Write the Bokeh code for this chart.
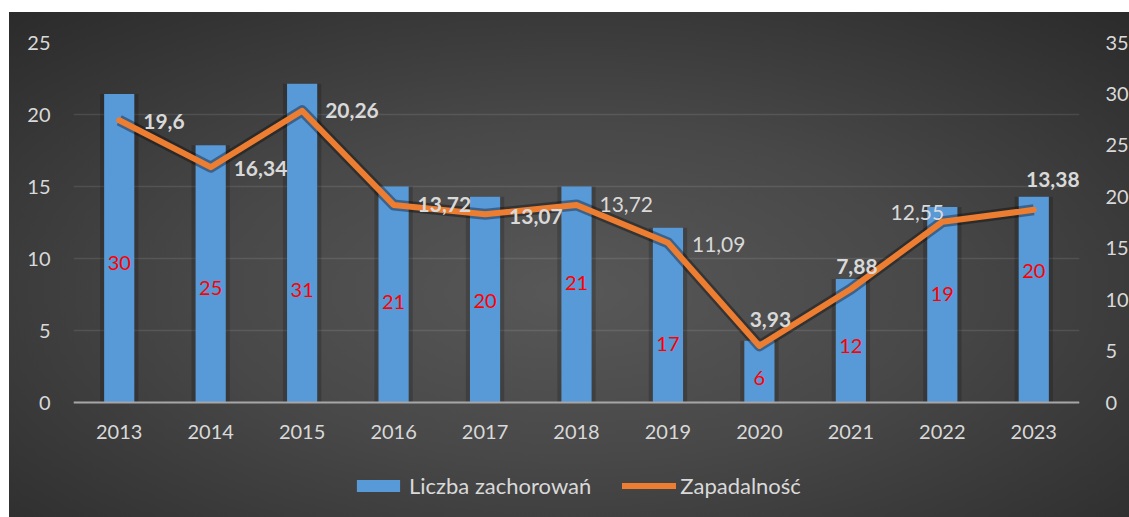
from bokeh.plotting import figure
from bokeh.models import (ColumnDataSource, Range1d, LinearAxis, Legend, LegendItem,
                          FactorRange, FixedTicker, InlineStyleSheet)
from bokeh.core.properties import value
from bokeh.embed import file_html
from bokeh.resources import INLINE

years = ["2013", "2014", "2015", "2016", "2017", "2018", "2019", "2020", "2021", "2022", "2023"]
cases = [30, 25, 31, 21, 20, 21, 17, 6, 12, 19, 20]
incidence = [19.6, 16.34, 20.26, 13.72, 13.07, 13.72, 11.09, 3.93, 7.88, 12.55, 13.38]
incidence_labels = ["19,6", "16,34", "20,26", "13,72", "13,07", "13,72", "11,09", "3,93", "7,88", "12,55", "13,38"]
left_ticks = [0, 5, 10, 15, 20, 25]
right_ticks = [0, 5, 10, 15, 20, 25, 30, 35]
left_max, right_max = 25, 35

# label layout (positions of the red count labels inside bars, in right-axis units)
case_label_pos = [13.56, 11.13, 10.89, 9.77, 9.82, 11.57, 5.69, 2.38, 5.54, 10.55, 12.74]
inc_dx = [24, 23, 23, 24, 24, 23, 24, 11, 6, -25, 19]
inc_dy = [1, 1, 0, 0, 2, 0, 2, -26, -23, -9, -30]
inc_align = ["left"] * 7 + ["center"] * 4
inc_style = ["bold", "bold", "bold", "bold", "bold", "normal", "normal", "bold", "bold", "normal", "bold"]

FONT = "Lato"
TXT = "#d9d9d9"

# frame: 360 px for the value area, plus 115 px below zero for x labels and legend
PLOT_PX, BELOW_PX = 360, 115
pad_frac = BELOW_PX / PLOT_PX

src = ColumnDataSource(dict(
    x=years, cases=cases, inc=incidence, inc_lbl=incidence_labels,
    cases_lbl=[str(c) for c in cases], cpos=case_label_pos,
    dx=inc_dx, dy=inc_dy, align=inc_align, style=inc_style,
))

css = InlineStyleSheet(css=""":host { background: radial-gradient(ellipse 900px 420px at 560px 280px, #585858 0%, #484848 40%, #313131 80%, #262626 100%); }""")

p = figure(x_range=FactorRange(*years, range_padding=0),
           y_range=Range1d(-left_max * pad_frac, left_max),
           frame_width=1006, frame_height=PLOT_PX + BELOW_PX,
           output_backend="svg", toolbar_location=None,
           min_border_left=64, min_border_right=50, min_border_top=30, min_border_bottom=0)
p.margin = (12, 0, 0, 9)
p.stylesheets = [css]
p.background_fill_color = None
p.border_fill_color = None
p.outline_line_color = None
p.extra_y_ranges = {"right": Range1d(-right_max * pad_frac, right_max)}

# bars (right axis)
p.vbar(x="x", top="cases", bottom=0, width=0.42, source=src, y_range_name="right",
       fill_color="black", fill_alpha=0.18, line_color=None)
bars = p.vbar(x="x", top="cases", bottom=0, width=0.33, source=src, y_range_name="right",
              fill_color="#5899d8", line_color=None)
p.text(x="x", y="cpos", text="cases_lbl", source=src, y_range_name="right",
       text_color="#ff0000", text_font=value(FONT), text_font_size="20px",
       text_align="center", text_baseline="middle")

# line (left axis)
p.line(x="x", y="inc", source=src, line_color="black", line_alpha=0.35, line_width=11,
       line_join="round")
line = p.line(x="x", y="inc", source=src, line_color="#ed7d31", line_width=6,
              line_join="round", line_cap="round")
p.text(x="x", y="inc", text="inc_lbl", source=src, x_offset="dx", y_offset="dy",
       text_align="align", text_font_style="style", text_baseline="middle",
       text_color=TXT, text_font=value(FONT), text_font_size="21px")

# axes
p.yaxis.ticker = FixedTicker(ticks=left_ticks)
right = LinearAxis(y_range_name="right", ticker=FixedTicker(ticks=right_ticks))
p.add_layout(right, "right")
for ax in (p.yaxis[0], right):
    ax.axis_line_color = None
    ax.major_tick_line_color = None
    ax.minor_tick_line_color = None
    ax.major_label_text_color = TXT
    ax.major_label_text_font = FONT
    ax.major_label_text_font_size = "20px"
p.yaxis[0].major_label_standoff = 17
right.major_label_standoff = 20

xa = p.xaxis[0]
xa.fixed_location = 0
xa.axis_line_color = "#a6a6a6"
xa.axis_line_width = 2
xa.major_tick_line_color = None
xa.minor_tick_line_color = None
xa.major_label_text_color = TXT
xa.major_label_text_font = FONT
xa.major_label_text_font_size = "20px"
xa.major_label_standoff = 16

p.xgrid.grid_line_color = None
p.ygrid.grid_line_color = "#ffffff"
p.ygrid.grid_line_alpha = 0.1
p.ygrid.grid_line_width = 1.5

legend = Legend(items=[LegendItem(label="Liczba zachorowań", renderers=[bars]),
                       LegendItem(label="Zapadalność", renderers=[line])],
                orientation="horizontal", location=(278, 18),
                background_fill_alpha=0, border_line_color=None,
                label_text_color=TXT, label_text_font=FONT, label_text_font_size="22px",
                glyph_width=54, glyph_height=15, label_standoff=4, spacing=31,
                padding=0, margin=0)
p.add_layout(legend, "center")

open("out.html", "w").write(file_html(p, INLINE))
